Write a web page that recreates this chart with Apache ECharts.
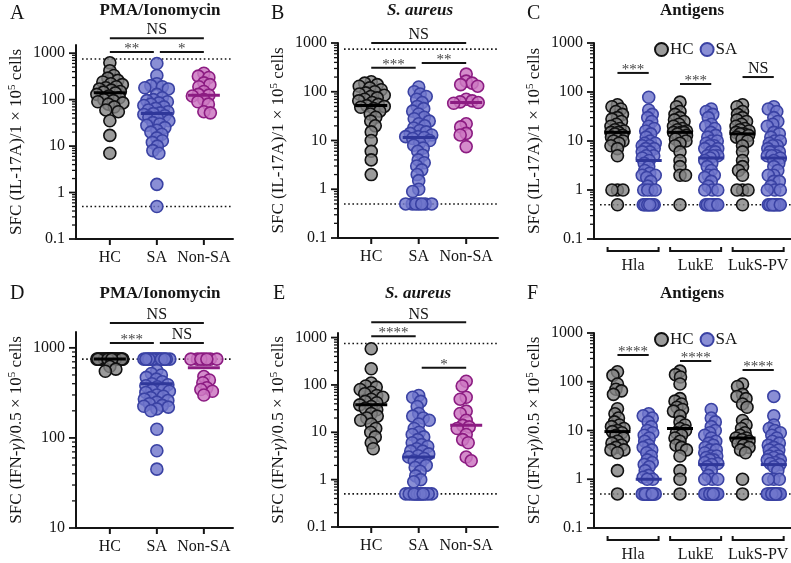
<!DOCTYPE html>
<html><head><meta charset="utf-8">
<script src="https://cdn.jsdelivr.net/npm/echarts@6/dist/echarts.min.js"></script>
<style>html,body{margin:0;padding:0;background:#fff}#c{width:791px;height:563px}</style>
</head><body><div id="c"></div>
<script>
// ================= DATA =================
const groupLabels = ['HC', 'SA', 'Non-SA'];
const antigenLabels = ['Hla', 'LukE', 'LukS-PV'];
const legendLabels = ['HC', 'SA'];
const yTickLabelsWide = [0.1, 1, 10, 100, 1000];
const yTickLabelsD = [10, 100, 1000];

// A: IL-17A, PMA/Ionomycin
const A_HC = [620, 420, 330, 290, 260, 240, 220, 210, 190, 180, 170, 160, 150, 145, 140, 130, 120, 110, 100, 95, 90, 85, 80, 70, 60, 55, 35, 17, 7];
const A_SA = [600, 330, 220, 200, 190, 180, 170, 130, 110, 100, 95, 90, 85, 80, 75, 70, 65, 60, 55, 52, 50, 48, 45, 42, 40, 35, 32, 30, 28, 25, 22, 20, 18, 15, 13, 12, 10, 8, 7, 1.5, 0.5];
const A_NonSA = [370, 320, 300, 230, 210, 190, 150, 130, 125, 120, 100, 90, 80, 55, 52];
const A_median = [140, 50, 125];
const A_sigText = ['NS', '**', '*'];

// B: IL-17A, S. aureus
const B_HC = [160, 150, 140, 130, 120, 110, 100, 95, 90, 85, 80, 75, 70, 65, 60, 55, 52, 50, 48, 45, 40, 35, 30, 25, 20, 15, 10, 6, 4, 2];
const B_SA = [125, 100, 90, 80, 70, 60, 50, 45, 40, 35, 30, 28, 25, 22, 20, 18, 16, 15, 14, 13, 12, 12, 11.5, 11, 10, 9, 8, 7, 6, 5, 4, 3.5, 3, 2.5, 2, 1.5, 1, 0.9, 0.5, 0.5, 0.5, 0.5, 0.5, 0.5, 0.5];
const B_NonSA = [230, 165, 150, 140, 130, 70, 65, 62, 60, 58, 22, 19, 14, 13, 7.5];
const B_median = [52, 11.5, 60];
const B_sigText = ['NS', '***', '**'];

// C: IL-17A, antigens
const C_HC_Hla = [55, 50, 45, 40, 35, 30, 28, 25, 22, 20, 18, 17, 16, 15, 15, 14, 13, 12, 11, 10, 10, 9, 8, 7, 5, 1, 1, 1, 0.5];
const C_SA_Hla = [78, 43, 35, 30, 25, 20, 18, 16, 14, 12, 10, 9, 9, 8, 8, 7, 7, 6, 6, 5, 5, 4.5, 4, 3.5, 3, 2.5, 2.2, 2, 2, 1.8, 1.5, 1.2, 1, 1, 1, 1, 0.5, 0.5, 0.5, 0.5, 0.5, 0.5, 0.5, 0.5, 0.5];
const C_HC_LukE = [62, 50, 40, 35, 30, 27, 25, 22, 20, 18, 17, 16, 15, 15, 15, 14, 13, 12, 11, 10, 9, 8, 6, 4, 3, 2, 2, 0.5];
const C_SA_LukE = [45, 40, 35, 30, 22, 20, 18, 15, 13, 12, 10, 10, 9, 8, 8, 7, 7, 6, 6, 5, 5, 5, 4.5, 4, 3.5, 3, 2.5, 2, 2, 1.8, 1.5, 1.2, 1, 1, 1, 0.5, 0.5, 0.5, 0.5, 0.5, 0.5, 0.5, 0.5, 0.5, 0.5];
const C_HC_LukS = [55, 50, 40, 35, 30, 27, 25, 22, 20, 18, 17, 16, 15, 14, 14, 13, 12, 11, 10, 8, 6, 4, 3, 2.5, 2, 1, 1, 1, 0.5];
const C_SA_LukS = [50, 45, 40, 30, 25, 22, 20, 15, 14, 12, 10, 10, 9, 8, 8, 7, 6, 6, 6, 5, 5, 5, 4.5, 4, 3.5, 3, 2.5, 2, 2, 1.5, 1.5, 1.2, 1, 1, 1, 0.5, 0.5, 0.5, 0.5, 0.5, 0.5, 0.5, 0.5, 0.5, 0.5];
const C_median_HC = [15, 15, 14];
const C_median_SA = [4, 4.5, 4.5];
const C_sigText = ['***', '***', 'NS'];

// D: IFN-gamma, PMA/Ionomycin
const D_HC = [750, 750, 750, 750, 750, 750, 750, 750, 750, 750, 750, 750, 750, 750, 750, 750, 750, 750, 750, 750, 750, 750, 750, 750, 750, 750, 750, 620, 580, 550];
const D_SA = [750, 750, 750, 750, 750, 750, 750, 750, 750, 750, 750, 750, 750, 750, 750, 750, 560, 520, 500, 470, 450, 420, 400, 390, 380, 370, 350, 340, 330, 320, 300, 290, 280, 270, 260, 250, 240, 230, 225, 220, 210, 200, 125, 72, 45];
const D_NonSA = [750, 750, 750, 750, 750, 750, 750, 480, 440, 410, 360, 345, 330, 300];
const D_median = [750, 400, 600];
const D_sigText = ['NS', '***', 'NS'];

// E: IFN-gamma, S. aureus
const E_HC = [580, 220, 110, 95, 90, 80, 70, 65, 60, 55, 50, 45, 42, 38, 35, 32, 30, 25, 22, 20, 18, 15, 12, 10, 8, 6, 4.5];
const E_SA = [60, 55, 45, 35, 25, 22, 20, 18, 15, 12, 10, 9, 8, 7, 6, 5.5, 5, 4.5, 4, 4, 3.5, 3.2, 3, 2.8, 2.5, 2.2, 2, 1.8, 1.5, 1.2, 1, 0.9, 0.5, 0.5, 0.5, 0.5, 0.5, 0.5, 0.5, 0.5, 0.5, 0.5, 0.5, 0.5, 0.5];
const E_NonSA = [120, 95, 55, 50, 28, 25, 18, 14, 13, 12, 9, 7, 6, 3, 2.5];
const E_median = [38, 3, 14];
const E_sigText = ['NS', '****', '*'];

// F: IFN-gamma, antigens
const F_HC_Hla = [160, 135, 90, 70, 65, 55, 28, 22, 18, 15, 13, 12, 11, 10, 9.5, 9, 8, 7, 6, 5.5, 5, 4.5, 4, 4, 3.5, 1.5, 0.5];
const F_SA_Hla = [22, 20, 18, 15, 12, 10, 9, 8, 7, 6, 5, 4.5, 4, 3.5, 3, 2.5, 2.2, 2, 1.8, 1.5, 1.2, 1.1, 1, 1, 0.5, 0.5, 0.5, 0.5, 0.5, 0.5, 0.5, 0.5, 0.5, 0.5, 0.5, 0.5, 0.5, 0.5, 0.5, 0.5, 0.5, 0.5, 0.5, 0.5, 0.5];
const F_HC_LukE = [165, 140, 125, 90, 45, 40, 35, 30, 27, 25, 20, 15, 13, 11, 10, 9, 8, 7, 6, 5, 4.5, 4, 3, 1.5, 1, 0.5];
const F_SA_LukE = [27, 18, 15, 12, 10, 9, 8, 7, 6, 5.5, 5, 4.5, 4, 4, 3.5, 3, 3, 2.8, 2.5, 2.5, 2.2, 2.1, 2, 1.8, 1.5, 1.2, 1, 1, 1, 0.5, 0.5, 0.5, 0.5, 0.5, 0.5, 0.5, 0.5, 0.5, 0.5, 0.5, 0.5, 0.5, 0.5, 0.5, 0.5];
const F_HC_LukS = [90, 80, 55, 50, 45, 35, 30, 16, 13, 11, 9, 8, 7, 7, 6.5, 6, 5.5, 5, 4.5, 4, 3.5, 1, 0.5];
const F_SA_LukS = [50, 20, 13, 11, 10, 9, 8, 7, 6, 5.5, 5, 4.5, 4, 4, 3.5, 3, 3, 2.8, 2.5, 2.5, 2.2, 2.1, 2, 1.8, 1.5, 1, 1, 1, 0.5, 0.5, 0.5, 0.5, 0.5, 0.5, 0.5, 0.5, 0.5, 0.5, 0.5, 0.5, 0.5, 0.5, 0.5, 0.5, 0.5];
const F_median_HC = [9.5, 11, 7];
const F_median_SA = [1, 2, 2];
const F_sigText = ['****', '****', '****'];

// reference (detection-limit) lines
const refLinesIL17 = [750, 0.5];
const refLinesIFNpma = [750];
const refLinesAntigen = [0.5];

// ================= STYLE / LAYOUT =================
const SERIF = '"Liberation Serif","DejaVu Serif",serif';
const INK = '#141414';
const STY = {
  HC: {fill: 'rgba(130,130,130,0.8)', stroke: '#111111', med: '#000000'},
  SA: {fill: 'rgba(112,118,204,0.82)', stroke: '#3a42a4', med: '#2f379a'},
  NonSA: {fill: 'rgba(204,120,194,0.85)', stroke: '#8c1c82', med: '#8c1c82'}
};
const nameIL17 = '{n|SFC (IL-17A)/1 × 10}{s|5}{n| cells}';
const nameIFN = '{n|SFC (IFN-}{i|γ}{n|)/0.5 × 10}{s|5}{n| cells}';
const RICH = {
  n: {fontFamily: SERIF, fontSize: 17, color: INK, lineHeight: 20},
  i: {fontFamily: SERIF, fontSize: 17, fontStyle: 'italic', color: INK, lineHeight: 20},
  s: {fontFamily: SERIF, fontSize: 11, color: INK, lineHeight: 12, verticalAlign: 'top'}
};
const threePairs = [[1, 3], [1, 2], [2, 3]];
const antigenPairs = [[1, 2], [3, 4], [5, 6]];

function col3(hc, sa, non, med) {
  return [
    {name: 'HC', sty: 'HC', x: 1, v: hc, med: med[0]},
    {name: 'SA', sty: 'SA', x: 2, v: sa, med: med[1]},
    {name: 'Non-SA', sty: 'NonSA', x: 3, v: non, med: med[2]}
  ];
}
function col6(list, mh, ms) {
  return list.map((v, i) => ({name: i % 2 ? 'SA' : 'HC', sty: i % 2 ? 'SA' : 'HC', x: i + 1, v: v, med: i % 2 ? ms[(i - 1) / 2] : mh[i / 2]}));
}

const panels = [
  {letter: 'A', title: 'PMA/Ionomycin', italic: false, lx: 10, ly: 4, tx: 160, ty: 2,
   grid: {left: 76, top: 45, width: 157, height: 194}, xr: [0.28, 3.62], yr: [0.1, 1500], labels: yTickLabelsWide,
   yName: nameIL17, groups: col3(A_HC, A_SA, A_NonSA, A_median), refs: refLinesIL17,
   sigPairs: threePairs, sigLevels: [2100, 1060, 1060], sigText: A_sigText, kind: 'three'},
  {letter: 'B', title: 'S. aureus', italic: true, lx: 271, ly: 4, tx: 420, ty: 2,
   grid: {left: 338, top: 43, width: 160, height: 195}, xr: [0.3, 3.67], yr: [0.1, 1000], labels: yTickLabelsWide,
   yName: nameIL17, groups: col3(B_HC, B_SA, B_NonSA, B_median), refs: refLinesIL17,
   sigPairs: threePairs, sigLevels: [1000, 310, 390], sigText: B_sigText, kind: 'three'},
  {letter: 'C', title: 'Antigens', italic: false, lx: 527, ly: 4, tx: 692, ty: 2,
   grid: {left: 594, top: 43, width: 197, height: 196}, xr: [0.25, 6.55], yr: [0.1, 1000], labels: yTickLabelsWide,
   yName: nameIL17, groups: col6([C_HC_Hla, C_SA_Hla, C_HC_LukE, C_SA_LukE, C_HC_LukS, C_SA_LukS], C_median_HC, C_median_SA),
   refs: refLinesAntigen, sigPairs: antigenPairs, sigLevels: [245, 146, 202], sigText: C_sigText, kind: 'six'},
  {letter: 'D', title: 'PMA/Ionomycin', italic: false, lx: 10, ly: 284, tx: 160, ty: 285,
   grid: {left: 76, top: 332, width: 157, height: 196}, xr: [0.28, 3.62], yr: [10, 1500], labels: yTickLabelsD,
   yName: nameIFN, groups: col3(D_HC, D_SA, D_NonSA, D_median), refs: refLinesIFNpma,
   sigPairs: threePairs, sigLevels: [1890, 1130, 1130], sigText: D_sigText, kind: 'three'},
  {letter: 'E', title: 'S. aureus', italic: true, lx: 273, ly: 284, tx: 418, ty: 285,
   grid: {left: 338, top: 333, width: 160, height: 194}, xr: [0.3, 3.67], yr: [0.1, 1250], labels: yTickLabelsWide,
   yName: nameIFN, groups: col3(E_HC, E_SA, E_NonSA, E_median), refs: refLinesIL17,
   sigPairs: threePairs, sigLevels: [2100, 1065, 232], sigText: E_sigText, kind: 'three'},
  {letter: 'F', title: 'Antigens', italic: false, lx: 527, ly: 284, tx: 692, ty: 285,
   grid: {left: 594, top: 333, width: 197, height: 195}, xr: [0.25, 6.55], yr: [0.1, 1000], labels: yTickLabelsWide,
   yName: nameIFN, groups: col6([F_HC_Hla, F_SA_Hla, F_HC_LukE, F_SA_LukE, F_HC_LukS, F_SA_LukS], F_median_HC, F_median_SA),
   refs: refLinesAntigen, sigPairs: antigenPairs, sigLevels: [354, 267, 174], sigText: F_sigText, kind: 'six'}
];

// beeswarm-like horizontal spreading (pixel offsets) computed from the values
function swarm(values, pxPerDec, sep, maxHalf) {
  const order = values.map((v, i) => i).sort((a, b) => values[b] - values[a]);
  const placed = [];
  const off = new Array(values.length).fill(0);
  const step = 0.5, n = Math.floor(maxHalf / step);
  order.forEach((i, c) => {
    const y = Math.log10(values[i]) * pxPerDec;
    let best = 0, bestD = -1, done = false;
    const signs = c % 2 ? [-1, 1] : [1, -1];
    for (let k = 0; k <= n && !done; k++) {
      for (const s of (k === 0 ? [1] : signs)) {
        const dx = s * k * step;
        let md = Infinity;
        for (const p of placed) {
          const dy = p.y - y;
          if (Math.abs(dy) >= sep) continue;
          const d = Math.hypot(p.x - dx, dy);
          if (d < md) md = d;
        }
        if (md >= sep) { best = dx; done = true; break; }
        if (md > bestD + 1e-9) { bestD = md; best = dx; }
      }
    }
    placed.push({x: best, y: y});
    off[i] = best;
  });
  return off;
}

function labelFor(v, list) {
  for (const t of list) if (Math.abs(Math.log10(v) - Math.log10(t)) < 1e-6) return String(t);
  return '';
}

const option = {animation: false, backgroundColor: '#ffffff', title: [], grid: [], xAxis: [], yAxis: [], series: [], legend: []};

panels.forEach((P, gi) => {
  const six = P.kind === 'six';
  option.title.push({text: P.letter, left: P.lx, top: P.ly, padding: 0,
    textStyle: {fontFamily: SERIF, fontSize: 20, fontWeight: 'normal', color: INK}});
  option.title.push({text: P.title, left: P.tx, top: P.ty, padding: 0, textAlign: 'center',
    textStyle: {fontFamily: SERIF, fontSize: 17, fontWeight: 'bold', fontStyle: P.italic ? 'italic' : 'normal', color: INK}});
  option.grid.push(Object.assign({}, P.grid));
  option.xAxis.push({type: 'value', gridIndex: gi, min: P.xr[0], max: P.xr[1],
    axisLine: {onZero: false, lineStyle: {color: INK, width: 2}}, axisTick: {show: false}, axisLabel: {show: false}, splitLine: {show: false}});
  option.yAxis.push({type: 'log', logBase: 10, gridIndex: gi, min: P.yr[0], max: P.yr[1],
    axisLine: {show: true, onZero: false, lineStyle: {color: INK, width: 2}}, axisTick: {show: false},
    splitLine: {show: false}, minorTick: {show: false}, minorSplitLine: {show: false},
    axisLabel: {margin: 11, color: INK, fontFamily: SERIF, fontSize: 16, formatter: v => labelFor(v, P.labels)},
    name: P.yName, nameLocation: 'middle', nameGap: 49, nameTextStyle: {rich: RICH}});

  const pxPerDec = P.grid.height / (Math.log10(P.yr[1]) - Math.log10(P.yr[0]));
  const sep = six ? 5.5 : 6.2, maxHalf = six ? 6.5 : 13;

  // reference dotted lines (under points)
  option.series.push({type: 'custom', xAxisIndex: gi, yAxisIndex: gi, z: 1, silent: true, clip: false,
    data: P.refs.map(v => [P.xr[0], v]),
    renderItem: (params, api) => {
      const a = api.coord([P.xr[0], api.value(1)]);
      const b = api.coord([P.xr[1], api.value(1)]);
      return {type: 'line', shape: {x1: a[0] + 6, y1: a[1], x2: b[0], y2: b[1]},
        style: {stroke: INK, lineWidth: 1.6, lineDash: [1.6, 2.6]}};
    }});

  // data points
  P.groups.forEach(g => {
    const off = swarm(g.v, pxPerDec, sep, maxHalf);
    const s = STY[g.sty];
    option.series.push({type: 'scatter', name: g.name, xAxisIndex: gi, yAxisIndex: gi, z: 2,
      symbol: 'circle', symbolSize: 12,
      itemStyle: {color: s.fill, borderColor: s.stroke, borderWidth: 1.6, opacity: 1},
      emphasis: {disabled: true},
      data: g.v.map((v, i) => ({value: [g.x, v], symbolOffset: [off[i], 0]}))});
  });

  // median lines
  const hw = six ? 13 : 16;
  option.series.push({type: 'custom', xAxisIndex: gi, yAxisIndex: gi, z: 5, silent: true, clip: false,
    data: P.groups.map(g => [g.x, g.med]),
    renderItem: (params, api) => {
      const p = api.coord([api.value(0), api.value(1)]);
      const g = P.groups[params.dataIndex];
      return {type: 'line', shape: {x1: p[0] - hw, y1: p[1], x2: p[0] + hw, y2: p[1]},
        style: {stroke: STY[g.sty].med, lineWidth: 3}};
    }});

  // y ticks (major + log minor)
  const ticks = [];
  const d0 = Math.round(Math.log10(P.yr[0]));
  for (let d = d0; Math.pow(10, d) <= P.yr[1] * 1.0001; d++) {
    const base = Math.pow(10, d);
    ticks.push({v: base, major: true});
    for (let k = 2; k <= 9; k++) if (k * base <= P.yr[1] * 1.0001) ticks.push({v: k * base, major: false});
  }
  option.series.push({type: 'custom', xAxisIndex: gi, yAxisIndex: gi, z: 4, silent: true, clip: false,
    data: ticks.map(t => [P.xr[0], t.v]),
    renderItem: (params, api) => {
      const t = ticks[params.dataIndex];
      const p = api.coord([api.value(0), api.value(1)]);
      const len = t.major ? 7 : 4;
      return {type: 'line', shape: {x1: p[0] - len, y1: p[1], x2: p[0], y2: p[1]},
        style: {stroke: INK, lineWidth: t.major ? 1.8 : 1.3}};
    }});

  // x categories: ticks + labels, or brackets for antigens
  if (!six) {
    option.series.push({type: 'custom', xAxisIndex: gi, yAxisIndex: gi, z: 4, silent: true, clip: false,
      data: groupLabels.map((l, i) => [i + 1, P.yr[0]]),
      renderItem: (params, api) => {
        const p = api.coord([api.value(0), api.value(1)]);
        return {type: 'group', children: [
          {type: 'line', shape: {x1: p[0], y1: p[1], x2: p[0], y2: p[1] + 6}, style: {stroke: INK, lineWidth: 2}},
          {type: 'text', x: p[0], y: p[1] + 19, style: {text: groupLabels[params.dataIndex], font: '16px ' + SERIF, fill: INK, align: 'center', verticalAlign: 'middle'}}
        ]};
      }});
  } else {
    option.series.push({type: 'custom', xAxisIndex: gi, yAxisIndex: gi, z: 4, silent: true, clip: false,
      data: antigenLabels.map((l, i) => [2 * i + 1.5, P.yr[0]]),
      renderItem: (params, api) => {
        const p = api.coord([api.value(0), api.value(1)]);
        const y = p[1] + 12, h = 25.5;
        return {type: 'group', children: [
          {type: 'polyline', shape: {points: [[p[0] - h, y - 4], [p[0] - h, y], [p[0] + h, y], [p[0] + h, y - 4]]}, style: {stroke: INK, lineWidth: 2, fill: null}},
          {type: 'text', x: p[0], y: p[1] + 27, style: {text: antigenLabels[params.dataIndex], font: '16px ' + SERIF, fill: INK, align: 'center', verticalAlign: 'middle'}}
        ]};
      }});
  }

  // significance bars
  option.series.push({type: 'custom', xAxisIndex: gi, yAxisIndex: gi, z: 5, silent: true, clip: false,
    data: P.sigPairs.map((pr, i) => [pr[0], P.sigLevels[i]]),
    renderItem: (params, api) => {
      const pr = P.sigPairs[params.dataIndex];
      const txt = P.sigText[params.dataIndex];
      const a = api.coord([pr[0], api.value(1)]);
      const b = api.coord([pr[1], api.value(1)]);
      let x1 = a[0], x2 = b[0];
      if (!six && pr[1] - pr[0] === 1) { if (pr[1] === 2) x2 -= 3; if (pr[0] === 2) x1 += 3; }
      const star = txt.indexOf('*') >= 0;
      return {type: 'group', children: [
        {type: 'line', shape: {x1: x1, y1: a[1], x2: x2, y2: a[1]}, style: {stroke: INK, lineWidth: 2}},
        {type: 'text', x: (x1 + x2) / 2, y: a[1] - (star ? 3 : 8),
         style: {text: txt, font: (star ? '15px ' : '16px ') + SERIF, fill: star ? '#444' : INK, align: 'center', verticalAlign: 'middle'}}
      ]};
    }});

  if (six) {
    option.legend.push({data: legendLabels, left: 654, top: P.grid.top - 2, icon: 'circle', itemWidth: 13, itemHeight: 13,
      itemGap: 6, padding: 0, selectedMode: false,
      textStyle: {fontFamily: SERIF, fontSize: 17, color: INK, padding: [0, 0, 0, -3]}});
  }
});

const chart = echarts.init(document.getElementById('c'), null, {renderer: 'canvas'});
chart.setOption(option);
</script></body></html>
